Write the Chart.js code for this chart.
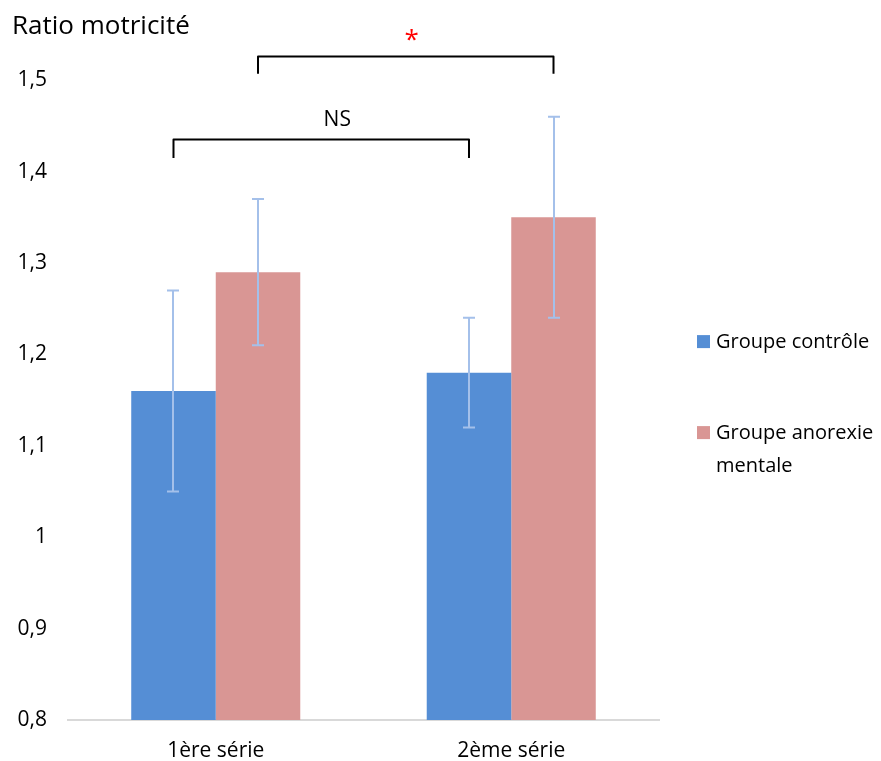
<!DOCTYPE html>
<html>
<head>
<meta charset="utf-8">
<script src="https://cdn.jsdelivr.net/npm/chart.js@4/dist/chart.umd.min.js"></script>
<style>
	body { margin: 0; background: #fff; }
	#wrap { width: 881px; height: 761px; }
</style>
</head>
<body>
<div id="wrap"><canvas id="chart" width="881" height="761"></canvas></div>
<script>
// Data
const categories = ['1ère série', '2ème série'];
const seriesNames = ['Groupe contrôle', 'Groupe anorexie mentale'];
const controlValues = [1.16, 1.18];
const controlErrors = [0.11, 0.06];
const anorexiaValues = [1.29, 1.35];
const anorexiaErrors = [0.08, 0.11];
const yTicks = [0.8, 0.9, 1, 1.1, 1.2, 1.3, 1.4, 1.5];
// significance brackets: bar [dataset, index] to bar [dataset, index], line level + leg end in ratio units
const brackets = [
	{ from: [0, 0], to: [0, 1], level: 1.435, legEnd: 1.415, label: 'NS' },
	{ from: [1, 0], to: [1, 1], level: 1.526, legEnd: 1.507, label: '*' }
];

const FONT = '"Open Sans", Lato, sans-serif';
const errorColor = '#a4c0ea';

// error bars drawn on top of each bar, from the y scale
const errorBars = {
	id: 'errorBars',
	afterDatasetsDraw(chart) {
		const ctx = chart.ctx,
			y = chart.scales.y;
		ctx.save();
		ctx.strokeStyle = errorColor;
		ctx.lineWidth = 2;
		chart.data.datasets.forEach((ds, i) => {
			chart.getDatasetMeta(i).data.forEach((bar, j) => {
				let top = y.getPixelForValue(ds.data[j] + ds.errors[j]),
					bottom = y.getPixelForValue(ds.data[j] - ds.errors[j]),
					x = Math.round(bar.x);
				ctx.beginPath();
				ctx.moveTo(x, top);
				ctx.lineTo(x, bottom);
				ctx.moveTo(x - 6, top);
				ctx.lineTo(x + 6, top);
				ctx.moveTo(x - 6, bottom);
				ctx.lineTo(x + 6, bottom);
				ctx.stroke();
			});
		});
		ctx.restore();
	}
};

// brackets + NS / * above the bars
const sigBrackets = {
	id: 'sigBrackets',
	afterDraw(chart) {
		const ctx = chart.ctx,
			y = chart.scales.y;
		ctx.save();
		ctx.lineWidth = 2;
		ctx.lineJoin = 'round';
		ctx.strokeStyle = '#000';
		brackets.forEach((b) => {
			let x1 = chart.getDatasetMeta(b.from[0]).data[b.from[1]].x,
				x2 = chart.getDatasetMeta(b.to[0]).data[b.to[1]].x,
				yl = y.getPixelForValue(b.level),
				ye = y.getPixelForValue(b.legEnd);
			ctx.beginPath();
			ctx.moveTo(x1, ye);
			ctx.lineTo(x1, yl);
			ctx.lineTo(x2, yl);
			ctx.lineTo(x2, ye);
			ctx.stroke();
			ctx.textAlign = 'center';
			ctx.textBaseline = 'middle';
			if (b.label == '*') {
				ctx.fillStyle = '#ff0000';
				ctx.font = '26px ' + FONT;
				ctx.fillText(b.label, (x1 + x2) / 2 + 6, yl - 16);
			} else {
				ctx.fillStyle = '#000';
				ctx.font = '21px ' + FONT;
				ctx.fillText(b.label, (x1 + x2) / 2 + 16, yl - 20);
			}
		});
		ctx.restore();
	}
};

// legend on the right, wrapping long names like the original
const sideLegend = {
	id: 'sideLegend',
	afterDraw(chart) {
		const ctx = chart.ctx,
			area = chart.chartArea;
		let boxX = area.right + 38,
			textX = boxX + 19,
			maxW = chart.width - textX + 4,
			y = (area.top + area.bottom) / 2 - 58;
		ctx.save();
		ctx.font = '20px ' + FONT;
		ctx.textBaseline = 'middle';
		ctx.textAlign = 'left';
		chart.data.datasets.forEach((ds) => {
			// simple word wrap
			let lines = [], line = '';
			ds.label.split(' ').forEach((w) => {
				let test = line ? line + ' ' + w : w;
				if (ctx.measureText(test).width > maxW && line) {
					lines.push(line);
					line = w;
				} else {
					line = test;
				}
			});
			lines.push(line);
			ctx.fillStyle = ds.backgroundColor;
			ctx.fillRect(boxX, y - 7, 13, 13);
			ctx.fillStyle = '#000';
			lines.forEach((t, k) => ctx.fillText(t, textX, y + k * 33));
			y += 91;
		});
		ctx.restore();
	}
};

const ctx = document.getElementById('chart');
new Chart(ctx, {
	type: 'bar',
	data: {
		labels: categories,
		datasets: [
			{
				label: seriesNames[0],
				data: controlValues,
				errors: controlErrors,
				backgroundColor: '#558ed5'
			}, {
				label: seriesNames[1],
				data: anorexiaValues,
				errors: anorexiaErrors,
				backgroundColor: '#d99694'
			}
		]
	},
	options: {
		responsive: false,
		animation: false,
		layout: {
			padding: { left: 12, right: 222, bottom: 0, top: 0 }
		},
		datasets: {
			bar: {
				categoryPercentage: 0.572,
				barPercentage: 1
			}
		},
		scales: {
			x: {
				grid: { display: false, drawTicks: false },
				border: { display: true, color: '#d9d9d9', width: 2 },
				afterFit: (scale) => { scale.height = 41; },
				ticks: {
					color: '#000',
					padding: 21,
					font: { family: FONT, size: 21, lineHeight: 1 }
				}
			},
			y: {
				min: yTicks[0],
				max: yTicks[yTicks.length - 1],
				afterBuildTicks: (scale) => {
					scale.ticks = yTicks.map((v) => ({ value: v }));
				},
				afterFit: (scale) => { scale.width = 56; },
				grid: { display: false, drawTicks: false },
				border: { display: false },
				ticks: {
					color: '#000',
					padding: 21,
					font: { family: FONT, size: 21 },
					callback: (value) => String(Math.round(value * 10) / 10).replace('.', ',')
				}
			}
		},
		plugins: {
			legend: { display: false },
			tooltip: { enabled: false },
			title: {
				display: true,
				text: 'Ratio motricité',
				align: 'start',
				color: '#000',
				font: { family: FONT, size: 26, weight: 'normal', lineHeight: 1.2 },
				padding: { top: 11, bottom: 38 }
			}
		}
	},
	plugins: [errorBars, sigBrackets, sideLegend]
});
</script>
</body>
</html>
